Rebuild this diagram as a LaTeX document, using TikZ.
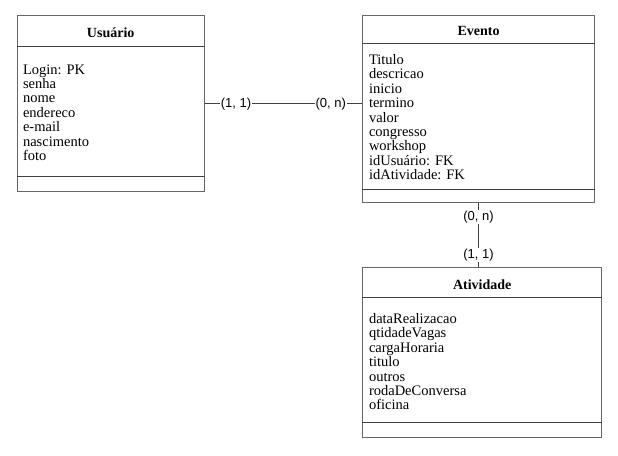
\documentclass[tikz,border=0pt]{standalone}
\usepackage{fontspec}
\setmainfont{Liberation Serif}
\newfontfamily\cardfont{Liberation Sans}
\usetikzlibrary{positioning}
\tikzset{
  ent/.style={draw=black!60,line width=1pt,inner sep=0pt},
  ttl/.style={font=\fontsize{14}{14.4}\selectfont\bfseries},
  attr/.style={font=\fontsize{14.5}{14.4}\selectfont,align=left,anchor=north west,inner sep=0pt},
  dv/.style={draw=black!75,line width=0.9pt},
  rel/.style={draw=black!75,line width=1pt},
  card/.style={font=\cardfont\fontsize{13}{14.4}\selectfont,fill=white,inner sep=1pt}
}

\begin{document}
\begin{tikzpicture}[x=1pt,y=-1pt]
\useasboundingbox (0,0) rectangle (618,455);
% Usuario
\node[ent,minimum width=186.7pt,minimum height=176pt] (usu) at (110.7,103.7) {};
\draw[dv] ([yshift=-31.6pt]usu.north west) -- ([yshift=-31.6pt]usu.north east);
\draw[dv] ([yshift=16pt]usu.south west) -- ([yshift=16pt]usu.south east);
\node[ttl] (usut) at ([yshift=-17.5pt]usu.north) {Usuário};
\node[attr] (usua) at ([xshift=6pt,yshift=-49pt]usu.north west) {Login: PK\\senha\\nome\\endereco\\e-mail\\nascimento\\foto};
% Evento
\node[ent,minimum width=231.6pt,minimum height=186.6pt] (eve) at (478.5,109) {};
\draw[dv] ([yshift=-28pt]eve.north west) -- ([yshift=-28pt]eve.north east);
\draw[dv] ([yshift=13.6pt]eve.south west) -- ([yshift=13.6pt]eve.south east);
\node[ttl] (evet) at ([yshift=-15.5pt]eve.north) {Evento};
\node[attr] (evea) at ([xshift=6.6pt,yshift=-39pt]eve.north west) {Titulo\\descricao\\inicio\\termino\\valor\\congresso\\workshop\\idUsuário: FK\\idAtividade: FK};
% Atividade
\node[ent,minimum width=239pt,minimum height=170.4pt] (atv) at (482.2,352.5) {};
\draw[dv] ([yshift=-31pt]atv.north west) -- ([yshift=-31pt]atv.north east);
\draw[dv] ([yshift=15.4pt]atv.south west) -- ([yshift=15.4pt]atv.south east);
\node[ttl] (atvt) at ([yshift=-17.5pt]atv.north) {Atividade};
\node[attr] (atva) at ([xshift=6.6pt,yshift=-46.5pt]atv.north west) {dataRealizacao\\qtidadeVagas\\cargaHoraria\\titulo\\outros\\rodaDeConversa\\oficina};
% relacionamentos
\draw[rel] (usu.east) -- node[card,pos=0.2]{(1, 1)} node[card,pos=0.8]{(0, n)} (usu.east -| eve.west);
\draw[rel] (eve.south) -- node[card,pos=0.22]{(0, n)} node[card,pos=0.81]{(1, 1)} (eve.south |- atv.north);
\end{tikzpicture}
\end{document}
